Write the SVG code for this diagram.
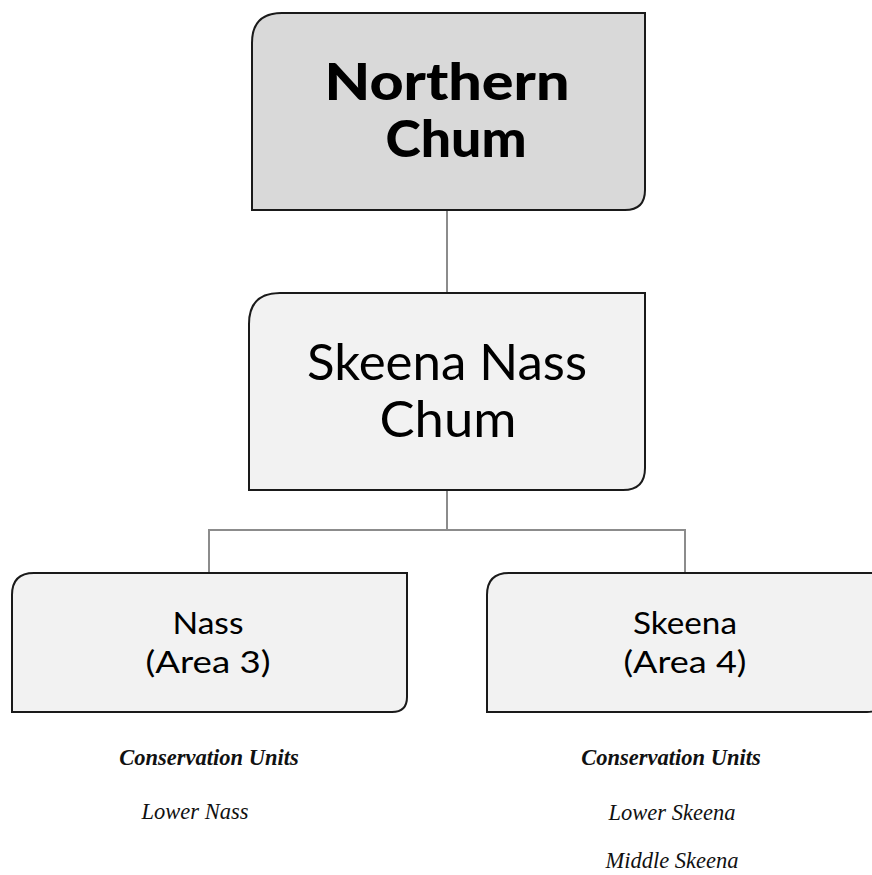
<svg xmlns="http://www.w3.org/2000/svg" width="872" height="875" viewBox="0 0 872 875">
  <style>
    .box { stroke: #1a1a1a; stroke-width: 2; }
    .dark { fill: #d9d9d9; }
    .light { fill: #f2f2f2; }
    .link { fill: none; stroke: #8c8c8c; stroke-width: 2; }
    .sans { font-family: Lato, "Open Sans", "DejaVu Sans", sans-serif; fill: #000; text-anchor: middle; }
    .serif { font-family: "Liberation Serif", "DejaVu Serif", serif; font-style: italic; fill: #111; text-anchor: middle; font-size: 22.5px; }
  </style>
  <rect width="872" height="875" fill="#fff"/>

  <g id="connectors">
    <line class="link" x1="447" y1="210" x2="447" y2="293"/>
    <polyline class="link" points="447,490 447,530 209,530 209,573"/>
    <polyline class="link" points="447,530 685,530 685,573"/>
  </g>

  <g id="northern-chum">
    <path class="box dark" d="M282,13 H645 V190 Q645,210 625,210 H252 V43 Q252,13 282,13 Z"/>
    <text class="sans" x="447" y="100" font-size="52" font-weight="900" textLength="245" lengthAdjust="spacingAndGlyphs">Northern</text>
    <text class="sans" x="456" y="157" font-size="52" font-weight="900" textLength="141" lengthAdjust="spacingAndGlyphs">Chum</text>
  </g>

  <g id="skeena-nass-chum">
    <path class="box light" d="M280,293 H645 V468 Q645,490 623,490 H249 V324 Q249,293 280,293 Z"/>
    <text class="sans" x="447" y="380" font-size="51" textLength="280" lengthAdjust="spacingAndGlyphs">Skeena Nass</text>
    <text class="sans" x="448" y="437" font-size="51" textLength="137" lengthAdjust="spacingAndGlyphs">Chum</text>
  </g>

  <g id="nass">
    <path class="box light" d="M34,573 H407 V697 Q407,712 392,712 H12 V595 Q12,573 34,573 Z"/>
    <text class="sans" x="208" y="634" font-size="31" textLength="71" lengthAdjust="spacingAndGlyphs">Nass</text>
    <text class="sans" x="208" y="673" font-size="31" textLength="125" lengthAdjust="spacingAndGlyphs">(Area 3)</text>
  </g>

  <g id="skeena">
    <path class="box light" d="M509,573 H882 V697 Q882,712 867,712 H487 V595 Q487,573 509,573 Z"/>
    <text class="sans" x="685" y="634" font-size="31" textLength="104" lengthAdjust="spacingAndGlyphs">Skeena</text>
    <text class="sans" x="685" y="673" font-size="31" textLength="123" lengthAdjust="spacingAndGlyphs">(Area 4)</text>
  </g>

  <g id="nass-units">
    <text class="serif" x="209" y="765" font-weight="700">Conservation Units</text>
    <text class="serif" x="195" y="819">Lower Nass</text>
  </g>

  <g id="skeena-units">
    <text class="serif" x="671" y="765" font-weight="700">Conservation Units</text>
    <text class="serif" x="672" y="820">Lower Skeena</text>
    <text class="serif" x="672" y="868">Middle Skeena</text>
  </g>
</svg>
